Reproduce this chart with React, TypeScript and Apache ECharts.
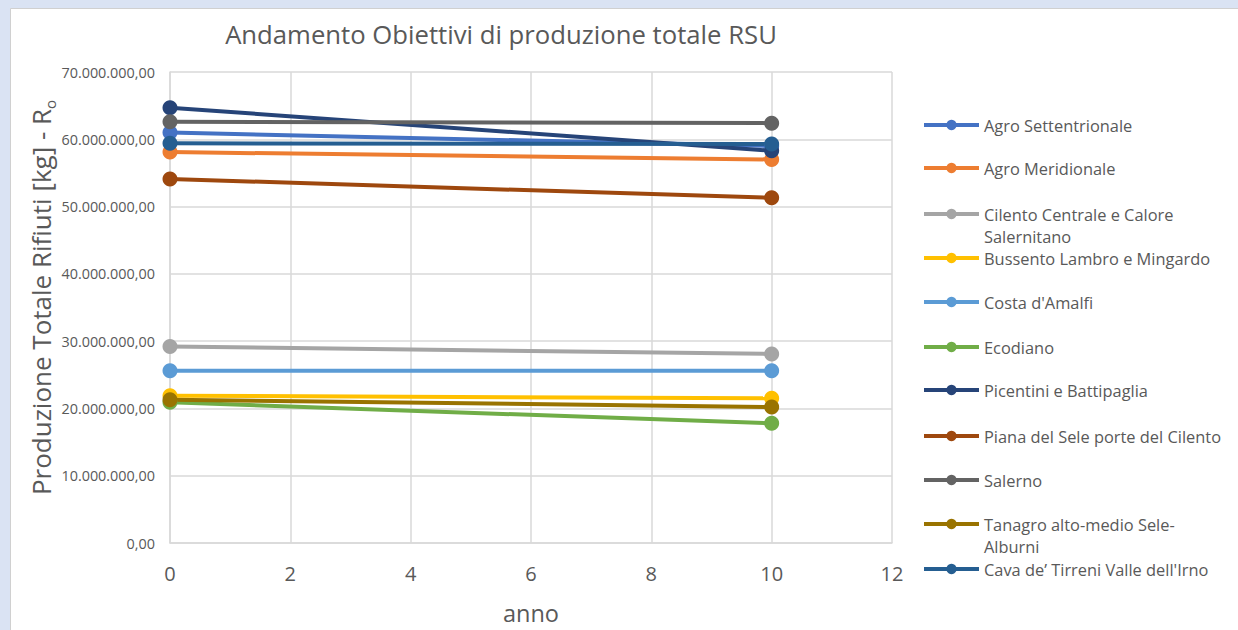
import React, { useEffect, useRef } from "react";
import * as echarts from "echarts";

const years = [0, 10];
const seriesNames = [
  "Agro Settentrionale",
  "Agro Meridionale",
  "Cilento Centrale e Calore Salernitano",
  "Bussento Lambro e Mingardo",
  "Costa d'Amalfi",
  "Ecodiano",
  "Picentini e Battipaglia",
  "Piana del Sele porte del Cilento",
  "Salerno",
  "Tanagro alto-medio Sele-Alburni",
  "Cava de\u2019 Tirreni Valle dell'Irno",
];
const legendLabels = [
  "Agro Settentrionale",
  "Agro Meridionale",
  "Cilento Centrale e Calore\nSalernitano",
  "Bussento Lambro e Mingardo",
  "Costa d'Amalfi",
  "Ecodiano",
  "Picentini e Battipaglia",
  "Piana del Sele porte del Cilento",
  "Salerno",
  "Tanagro alto-medio Sele-\nAlburni",
  "Cava de\u2019 Tirreni Valle dell'Irno",
];
const agroSettentrionale = [61000000, 59000000];
const agroMeridionale = [58100000, 57000000];
const cilento = [29200000, 28100000];
const bussento = [21900000, 21500000];
const costaAmalfi = [25600000, 25600000];
const ecodiano = [20900000, 17800000];
const picentini = [64700000, 58300000];
const pianaSele = [54100000, 51300000];
const salerno = [62600000, 62400000];
const tanagro = [21300000, 20200000];
const cava = [59400000, 59300000];
const seriesValues = [
  agroSettentrionale,
  agroMeridionale,
  cilento,
  bussento,
  costaAmalfi,
  ecodiano,
  picentini,
  pianaSele,
  salerno,
  tanagro,
  cava,
];
const colors = [
  "#4472C4",
  "#ED7D31",
  "#A5A5A5",
  "#FFC000",
  "#5B9BD5",
  "#70AD47",
  "#264478",
  "#9E480E",
  "#636363",
  "#997300",
  "#255E91",
];
const legendY = [125, 168, 214, 258, 302, 347, 390, 436, 480, 524, 569];

function formatIt(v: number): string {
  const s = Math.round(v).toString();
  const withDots = s.replace(/\B(?=(\d{3})+(?!\d))/g, ".");
  return withDots + ",00";
}

const FONT = "'Open Sans', 'Noto Sans', sans-serif";
const TXT = "#595959";

export default function App() {
  const ref = useRef<HTMLDivElement>(null);
  useEffect(() => {
    document.body.style.margin = "0";
    if (!ref.current) return;
    const chart = echarts.init(ref.current, null, { renderer: "svg" });
    const itemH = 13;
    const LH = 22;
    const legends = seriesNames.map((name, i) => {
      const twoLine = legendLabels[i].includes("\n");
      return {
        orient: "vertical",
        left: 922,
        top: twoLine ? legendY[i] - LH * 1.5 : legendY[i] - LH / 2,
        padding: 0,
        itemWidth: 55,
        itemHeight: itemH,
        itemGap: 0,
        selectedMode: false,
        data: [name],
        formatter: () => (twoLine ? "\u00a0\n" + legendLabels[i] : legendLabels[i]),
        lineStyle: { width: 4 },
        textStyle: {
          fontFamily: FONT,
          fontSize: 16.4,
          color: TXT,
          lineHeight: LH,
        },
      };
    });
    const series = seriesNames.map((name, i) => ({
      name,
      type: "line",
      data: years.map((y, j) => [y, seriesValues[i][j]]),
      symbol: "circle",
      symbolSize: 15,
      lineStyle: { width: 4, color: colors[i] },
      itemStyle: { color: colors[i] },
      emphasis: { disabled: true },
    }));
    chart.setOption({
      animation: false,
      backgroundColor: "#dae3f3",
      graphic: [
        {
          type: "rect",
          shape: { x: 10.5, y: 8.5, width: 1240, height: 640 },
          style: { fill: "#ffffff", stroke: "#d0d0d0", lineWidth: 1 },
          z: -10,
          silent: true,
        },
      ],
      title: {
        text: "Andamento Obiettivi di produzione totale RSU",
        left: 496,
        textAlign: "center",
        top: 16,
        textStyle: {
          fontFamily: FONT,
          fontSize: 25.7,
          fontWeight: "normal",
          color: TXT,
        },
      },
      legend: legends,
      grid: { left: 170, right: 346, top: 72, bottom: 87 },
      xAxis: {
        type: "value",
        min: 0,
        max: 12,
        interval: 2,
        name: "anno",
        nameLocation: "middle",
        nameGap: 58,
        nameMoveOverlap: false,
        nameTextStyle: { fontFamily: FONT, fontSize: 23.5, color: TXT },
        axisLine: { show: true, lineStyle: { color: "#d9d9d9", width: 1.5 } },
        axisTick: { show: false },
        axisLabel: { fontFamily: FONT, fontSize: 20, color: TXT, margin: 20 },
        splitLine: { show: true, lineStyle: { color: "#d9d9d9", width: 1.5 } },
      },
      yAxis: {
        type: "value",
        min: 0,
        max: 70000000,
        interval: 10000000,
        name: "{m|Produzione Totale Rifiuti [kg] - R}{s|o}",
        nameLocation: "middle",
        nameGap: 113,
        nameMoveOverlap: false,
        nameTextStyle: {
          fontFamily: FONT,
          color: TXT,
          padding: [0, 0, 0, 20],
          rich: {
            m: { fontFamily: FONT, fontSize: 26, color: TXT, lineHeight: 32 },
            s: {
              fontFamily: FONT,
              fontSize: 15,
              color: TXT,
              verticalAlign: "bottom",
              lineHeight: 14,
            },
          },
        },
        axisLine: { show: true, lineStyle: { color: "#d9d9d9", width: 1.5 } },
        axisTick: { show: false },
        axisLabel: {
          fontFamily: FONT,
          fontSize: 14.4,
          color: TXT,
          margin: 15,
          formatter: (v: number) => formatIt(v),
        },
        splitLine: { show: true, lineStyle: { color: "#d9d9d9", width: 1.5 } },
      },
      series,
    });
    return () => chart.dispose();
  }, []);
  return <div ref={ref} style={{ width: 1238, height: 630 }} />;
}
